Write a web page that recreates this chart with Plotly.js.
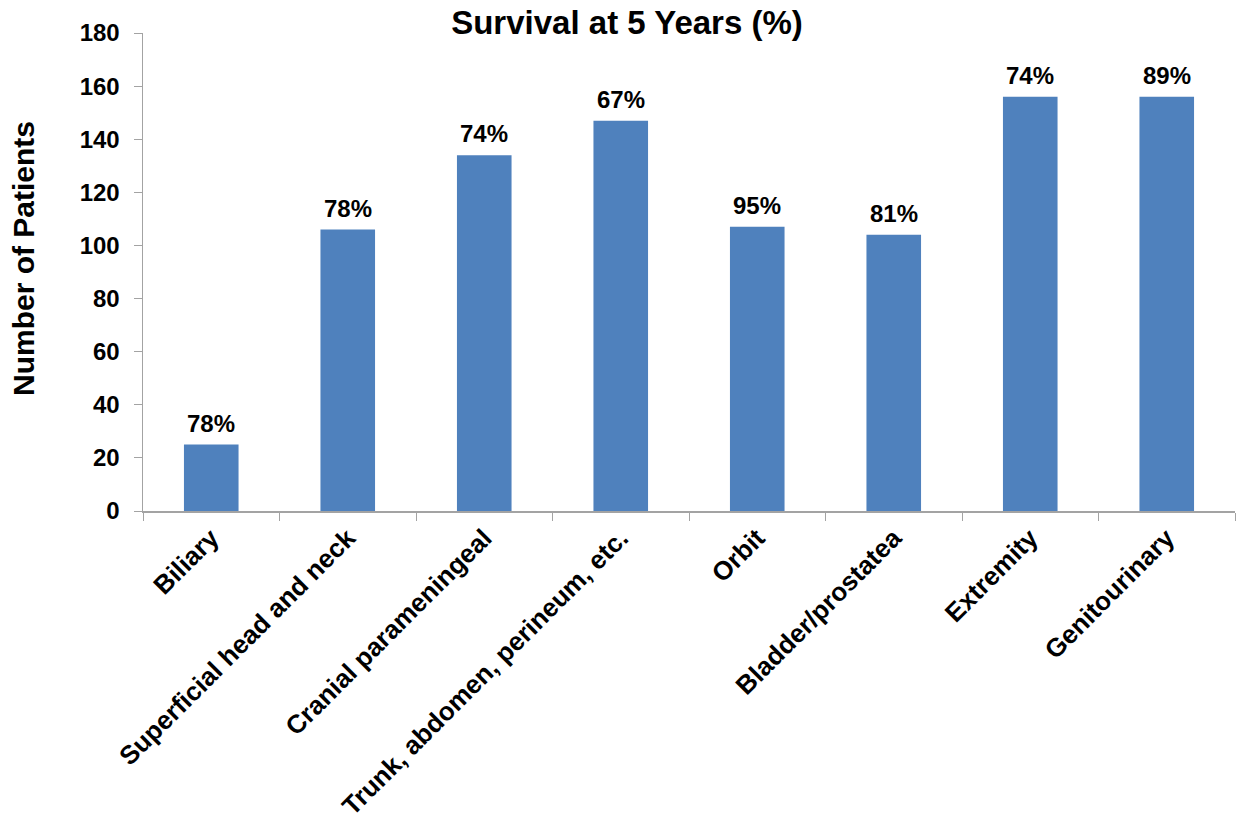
<!DOCTYPE html>
<html>
<head>
<meta charset="utf-8">
<script src="https://cdn.plot.ly/plotly-3.0.1.min.js"></script>
<style>
  html, body { margin: 0; padding: 0; background: #fff; }
  #chart { width: 1239px; height: 820px; }
</style>
</head>
<body>
<div id="chart"></div>
<script>
// Tumour site categories
const sites = [
  "Biliary",
  "Superficial head and neck",
  "Cranial parameningeal",
  "Trunk, abdomen, perineum, etc.",
  "Orbit",
  "Bladder/prostatea",
  "Extremity",
  "Genitourinary"
];

// Number of patients per site
const patients = [25, 106, 134, 147, 107, 104, 156, 156];

// Survival at 5 years, shown above each bar
const survival5y = ["78%", "78%", "74%", "67%", "95%", "81%", "74%", "89%"];

// Y axis ticks
const yTicks = [0, 20, 40, 60, 80, 100, 120, 140, 160, 180];

const FONT = "Arial, 'Liberation Sans', Helvetica, sans-serif";
const AXIS_GREY = "#a3a3a3";
const W = 1239, H = 820;

const trace = {
  type: "bar",
  x: sites,
  y: patients,
  marker: { color: "#4f81bd" },
  hoverinfo: "x+y"
};

// Survival labels sit a little above each bar top
const valueLabels = sites.map((s, i) => ({
  x: s,
  y: patients[i],
  xref: "x",
  yref: "y",
  text: survival5y[i],
  showarrow: false,
  yanchor: "bottom",
  yshift: 6,
  font: { family: FONT, size: 24, color: "#000", weight: "bold" }
}));

// Vertical axis caption
const yCaption = {
  text: "Number of Patients",
  textangle: -90,
  showarrow: false,
  xref: "paper",
  yref: "paper",
  x: (23 - 143) / (W - 143 - 4),
  y: (820 - 309 - 259) / (H - 33 - 309),
  xanchor: "center",
  yanchor: "middle",
  font: { family: FONT, size: 30, color: "#000", weight: "bold" }
};

const layout = {
  width: W,
  height: H,
  paper_bgcolor: "#fff",
  plot_bgcolor: "#fff",
  margin: { l: 143, r: 4, t: 33, b: 309 },
  bargap: 0.6,
  showlegend: false,
  font: { family: FONT, color: "#000" },
  title: {
    text: "Survival at 5 Years (%)",
    font: { family: FONT, size: 33, color: "#000", weight: "bold" },
    xref: "container", x: 627 / W, xanchor: "center",
    yref: "container", y: 1 - 22 / H, yanchor: "middle"
  },
  xaxis: {
    type: "category",
    tickangle: -45,
    tickson: "boundaries",
    ticks: "outside",
    ticklen: 8,
    tickwidth: 1,
    tickcolor: AXIS_GREY,
    showline: true,
    linecolor: AXIS_GREY,
    linewidth: 1.5,
    showgrid: false,
    zeroline: false,
    tickfont: { family: FONT, size: 26, color: "#000", weight: "bold" }
  },
  yaxis: {
    range: [0, 180],
    tickmode: "array",
    tickvals: yTicks,
    ticktext: yTicks.map(String),
    ticks: "outside",
    ticklen: 8,
    tickwidth: 1,
    tickcolor: AXIS_GREY,
    ticklabelstandoff: 9,
    showline: true,
    linecolor: AXIS_GREY,
    linewidth: 1.5,
    showgrid: false,
    zeroline: false,
    tickfont: { family: FONT, size: 24, color: "#000", weight: "bold" }
  },
  annotations: valueLabels.concat([yCaption])
};

Plotly.newPlot("chart", [trace], layout, { displayModeBar: false, staticPlot: true });
</script>
</body>
</html>
